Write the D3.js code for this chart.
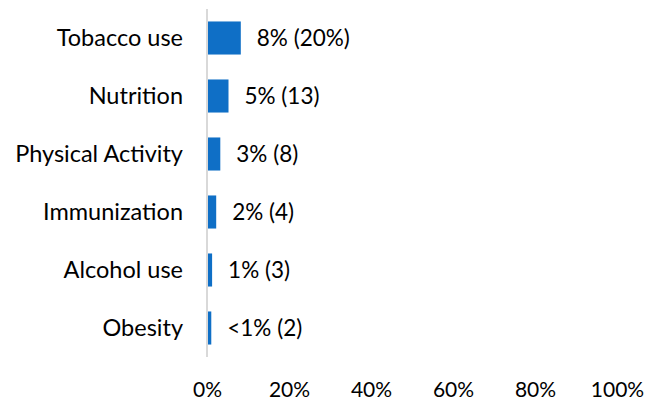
<!DOCTYPE html>
<html>
<head>
<meta charset="utf-8">
<script src="https://cdn.jsdelivr.net/npm/d3@7/dist/d3.min.js"></script>
<style>
  html, body { margin: 0; padding: 0; background: #fff; }
  svg text { font-family: Lato, "Noto Sans", sans-serif; fill: #000; }
</style>
</head>
<body>
<svg id="chart" width="649" height="403"></svg>
<script>
// Share of responses by health topic (percent), with counts shown in labels
const categories = ["Tobacco use", "Nutrition", "Physical Activity", "Immunization", "Alcohol use", "Obesity"];
const values = [8, 5, 3, 2, 1, 0.8];
const valueLabels = ["8% (20%)", "5% (13)", "3% (8)", "2% (4)", "1% (3)", "<1% (2)"];
const tickValues = [0, 20, 40, 60, 80, 100];

const svg = d3.select("#chart");

const x = d3.scaleLinear().domain([0, 100]).range([207, 617]);
const y = d3.scaleBand().domain(categories).range([9, 357]).paddingInner(0.43).paddingOuter(0.215);

// bars
svg.append("g").selectAll("rect")
  .data(categories)
  .join("rect")
  .attr("x", x(0) + 1)
  .attr("y", d => y(d))
  .attr("width", (d, i) => x(values[i]) - x(0))
  .attr("height", y.bandwidth())
  .attr("fill", "#0F6FC6");

// vertical category axis line
svg.append("line")
  .attr("x1", x(0)).attr("x2", x(0))
  .attr("y1", y.range()[0]).attr("y2", y.range()[1])
  .attr("stroke", "#d9d9d9").attr("stroke-width", 2);

// category labels
const yAxis = d3.axisLeft(y).tickSize(0).tickPadding(24);
svg.append("g")
  .attr("transform", `translate(${x(0)},0)`)
  .call(yAxis)
  .call(g => g.select(".domain").remove())
  .selectAll("text")
  .attr("font-size", 23.5)
  .attr("font-family", "Lato, 'Noto Sans', sans-serif")
  .attr("fill", "#000");

// value labels
svg.append("g").selectAll("text")
  .data(categories)
  .join("text")
  .attr("x", (d, i) => x(values[i]) + 17)
  .attr("y", d => y(d) + y.bandwidth() / 2)
  .attr("dy", "0.35em")
  .attr("font-size", 22.5)
  .text((d, i) => valueLabels[i]);

// percentage axis
const xAxis = d3.axisBottom(x).tickValues(tickValues).tickSize(0).tickPadding(0).tickFormat(d => d + "%");
svg.append("g")
  .attr("transform", "translate(0,382)")
  .call(xAxis)
  .call(g => g.select(".domain").remove())
  .selectAll("text")
  .attr("font-size", 21)
  .attr("font-family", "Lato, 'Noto Sans', sans-serif")
  .attr("fill", "#000");
</script>
</body>
</html>
